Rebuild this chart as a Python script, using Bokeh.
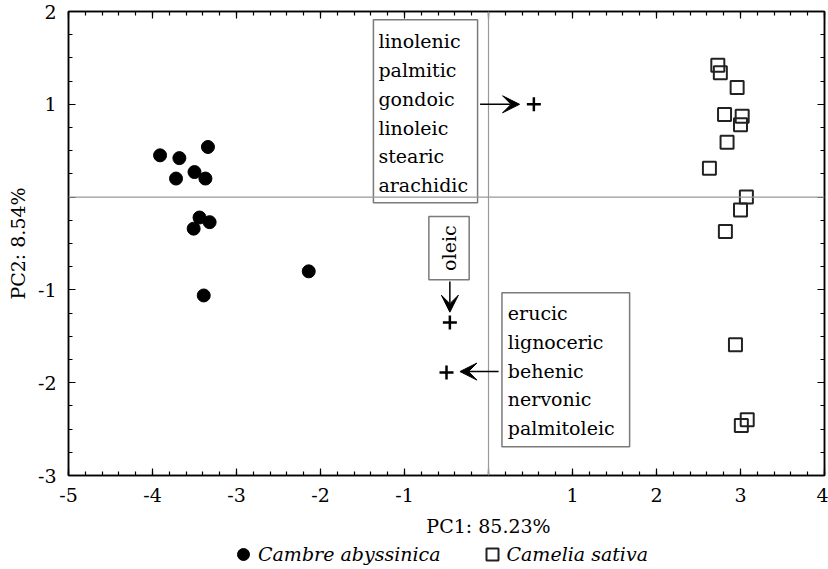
from bokeh.plotting import figure
from bokeh.layouts import column
from bokeh.models import (Range1d, SingleIntervalTicker, LinearAxis, Span, Label,
                          Arrow, VeeHead, Legend, LegendItem)
from bokeh.core.properties import value
from bokeh.embed import file_html
from bokeh.resources import INLINE
import math

# ---- data ----
cambre_x = [-3.91, -3.68, -3.72, -3.50, -3.37, -3.34, -3.44, -3.51, -3.32, -2.14, -3.39]
cambre_y = [0.45, 0.42, 0.20, 0.27, 0.20, 0.54, -0.22, -0.34, -0.27, -0.80, -1.06]

camelia_x = [2.73, 2.76, 2.96, 2.81, 3.02, 3.00, 2.84, 2.63, 3.07, 3.00, 2.82, 2.94, 3.08, 3.01]
camelia_y = [1.42, 1.34, 1.18, 0.89, 0.87, 0.78, 0.59, 0.31, 0.00, -0.14, -0.37, -1.59, -2.40, -2.46]

loading_x = [0.54, -0.46, -0.50]
loading_y = [1.00, -1.35, -1.89]

group1_labels = ["linolenic", "palmitic", "gondoic", "linoleic", "stearic", "arachidic"]
group2_labels = ["oleic"]
group3_labels = ["erucic", "lignoceric", "behenic", "nervonic", "palmitoleic"]
series_names = ["Cambre abyssinica", "Camelia sativa"]

x_ticks = [-5, -4, -3, -2, -1, 0, 1, 2, 3, 4]
y_ticks = [-3, -2, -1, 0, 1, 2]

FONT = "DejaVu Serif"
FS = "19px"

p = figure(width=828, height=512, output_backend="svg", toolbar_location=None,
           x_range=Range1d(-5, 4), y_range=Range1d(-3, 2),
           min_border_left=68, min_border_right=4, min_border_top=11, min_border_bottom=37)
p.xgrid.visible = False
p.ygrid.visible = False
p.outline_line_color = "black"
p.outline_line_width = 1.5
p.background_fill_color = "white"
p.border_fill_color = "white"

def style_axis(ax, ticks, show_labels=True):
    ax.axis_line_color = "black"
    ax.axis_line_width = 1.5
    ax.major_tick_in = 7
    ax.major_tick_out = 0
    ax.minor_tick_in = 4
    ax.minor_tick_out = 0
    ax.major_tick_line_color = "black"
    ax.minor_tick_line_color = "black"
    ax.major_tick_line_width = 1.2
    ax.minor_tick_line_width = 1.2
    ax.major_label_text_font = FONT
    ax.major_label_text_color = "black"
    ax.axis_label_text_font = FONT
    ax.axis_label_text_font_size = FS
    ax.axis_label_text_font_style = "normal"
    ax.axis_label_text_color = "black"
    if show_labels:
        ax.major_label_text_font_size = FS
        ax.major_label_standoff = 12
        ax.major_label_overrides = {t: ("" if t == 0 else str(t)) for t in ticks}
    else:
        ax.major_label_text_font_size = "0px"
        ax.major_label_standoff = 0
        ax.major_label_overrides = {t: "" for t in ticks}

p.xaxis.ticker = SingleIntervalTicker(interval=1, num_minor_ticks=5)
p.yaxis.ticker = SingleIntervalTicker(interval=1, num_minor_ticks=4)
style_axis(p.xaxis[0], x_ticks)
style_axis(p.yaxis[0], y_ticks)

p.yaxis.axis_label = "PC2: 8.54%"
p.yaxis.axis_label_standoff = 6

top_ax = LinearAxis(ticker=SingleIntervalTicker(interval=1, num_minor_ticks=5))
style_axis(top_ax, x_ticks, False)
p.add_layout(top_ax, "above")
right_ax = LinearAxis(ticker=SingleIntervalTicker(interval=1, num_minor_ticks=4))
style_axis(right_ax, y_ticks, False)
p.add_layout(right_ax, "right")

# zero lines
p.add_layout(Span(location=0, dimension="width", line_color="#999999", line_width=1.2))
p.add_layout(Span(location=0, dimension="height", line_color="#999999", line_width=1.2))

# scatter
p.scatter(cambre_x, cambre_y, marker="circle", size=13, fill_color="black", line_color="black")
p.scatter(camelia_x, camelia_y, marker="square", size=13, fill_color=None,
          line_color="#222222", line_width=2)
p.scatter(loading_x, loading_y, marker="cross", size=14, line_color="black", line_width=2.5)

# label boxes
box_color = "#7a7a7a"
p.quad(left=[-1.37, -0.71, 0.16], right=[-0.13, -0.23, 1.68],
       top=[1.91, -0.21, -1.03], bottom=[-0.06, -0.89, -2.69],
       fill_color="white", line_color=box_color, line_width=1.5)

g1_y = [1.68 - 0.31 * i for i in range(len(group1_labels))]
p.text(x=[-1.31] * len(group1_labels), y=g1_y, text=group1_labels,
       text_font=value(FONT), text_font_size=FS, text_baseline="middle", text_align="left")
g3_y = [-1.25 - 0.31 * i for i in range(len(group3_labels))]
p.text(x=[0.23] * len(group3_labels), y=g3_y, text=group3_labels,
       text_font=value(FONT), text_font_size=FS, text_baseline="middle", text_align="left")
p.text(x=[-0.47], y=[-0.55], text=group2_labels, angle=math.pi / 2,
       text_font=value(FONT), text_font_size=FS, text_baseline="middle", text_align="center")

# arrows
for (xs, ys, xe, ye) in [(-0.10, 1.0, 0.37, 1.0), (-0.46, -0.91, -0.46, -1.24), (0.12, -1.88, -0.34, -1.88)]:
    p.add_layout(Arrow(x_start=xs, y_start=ys, x_end=xe, y_end=ye, line_width=1.5, line_color="black",
                       end=VeeHead(size=17, fill_color="black", line_color="black")))

# ---- bottom strip: x-axis title and legend ----
# (y range chosen so the series themselves fall outside this strip; they only feed the legend)
p2 = figure(width=828, height=57, output_backend="svg", toolbar_location=None,
            x_range=Range1d(-5, 4), y_range=Range1d(100, 157),
            min_border_left=68, min_border_right=4, min_border_top=0, min_border_bottom=0)
p2.axis.visible = False
p2.xgrid.visible = False
p2.ygrid.visible = False
p2.outline_line_color = None
p2.background_fill_color = "white"
p2.border_fill_color = "white"

p2.add_layout(Label(x=0, y=144, text="PC1: 85.23%", text_font=FONT, text_font_size=FS,
                    text_align="center", text_baseline="middle", text_color="black"))

l1 = p2.scatter(cambre_x, cambre_y, marker="circle", size=13, fill_color="black", line_color="black")
l2 = p2.scatter(camelia_x, camelia_y, marker="square", size=13, fill_color=None,
                line_color="#222222", line_width=2)
legend = Legend(items=[LegendItem(label=series_names[0], renderers=[l1]),
                       LegendItem(label=series_names[1], renderers=[l2])],
                orientation="horizontal", location=(160, 0),
                label_text_font=FONT, label_text_font_size=FS, label_text_font_style="italic",
                label_text_color="black",
                border_line_color=None, background_fill_alpha=0, padding=0, margin=0,
                spacing=36, glyph_width=30, glyph_height=30, label_standoff=0)
p2.add_layout(legend, "center")

open("out.html", "w").write(file_html(column(p, p2, spacing=0), INLINE))
